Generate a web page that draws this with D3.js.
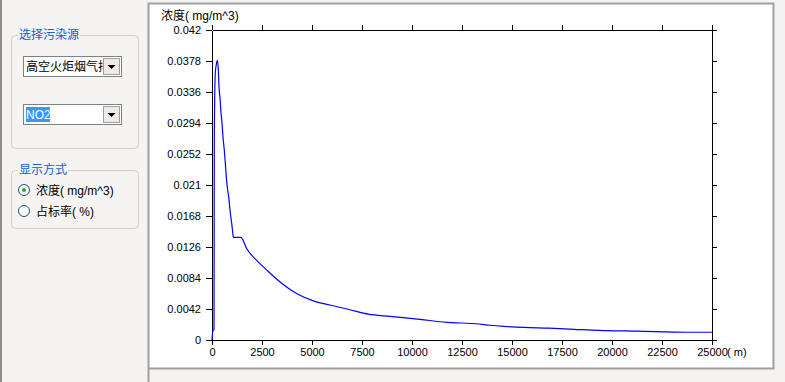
<!DOCTYPE html>
<html><head><meta charset="utf-8">
<script src="https://cdn.jsdelivr.net/npm/d3@7"></script>
<style>
html,body{margin:0;padding:0;background:#f5f4f2;}
svg{display:block;}
text{font-family:"Liberation Sans","Noto Sans CJK SC",sans-serif;}
</style></head>
<body>
<svg id="c" width="785" height="382"></svg>
<script>
// ---- data ----
const distances = [0, 50, 100, 115, 165, 215, 265, 315, 350, 400, 450, 500, 550, 615, 665, 715, 765, 835, 885, 935, 985, 1035, 1070, 1450, 1730, 2230, 2730, 3480, 4230, 5070, 5900, 6900, 7820, 8900, 10400, 11750, 12500, 13200, 13900, 14600, 15600, 16850, 18100, 19350, 21250, 23750, 25000];
const concentration = [0, 0.0013, 0.0014, 0.0271, 0.0362, 0.0373, 0.0379, 0.0367, 0.0343, 0.0328, 0.0308, 0.0294, 0.0275, 0.0257, 0.0240, 0.0221, 0.0207, 0.0194, 0.0180, 0.0168, 0.0158, 0.0146, 0.0139, 0.0139, 0.0124, 0.0108, 0.0095, 0.0077, 0.0063, 0.0053, 0.00474, 0.0041, 0.0035, 0.0032, 0.0028, 0.0024, 0.0023, 0.0022, 0.0020, 0.00185, 0.0017, 0.0016, 0.00145, 0.0013, 0.0012, 0.00105, 0.00105];
const xTickValues = [0, 2500, 5000, 7500, 10000, 12500, 15000, 17500, 20000, 22500, 25000];
const yTickValues = [0, 0.0042, 0.0084, 0.0126, 0.0168, 0.021, 0.0252, 0.0294, 0.0336, 0.0378, 0.042];
const yTickLabels = ["0", "0.0042", "0.0084", "0.0126", "0.0168", "0.021", "0.0252", "0.0294", "0.0336", "0.0378", "0.042"];
const yTitle = "浓度( mg/m^3)";
const xUnit = "( m)";
const groupTitle1 = "选择污染源";
const sourceName = "高空火炬烟气排放";
const pollutant = "NO2";
const groupTitle2 = "显示方式";
const radioLabels = ["浓度( mg/m^3)", "占标率( %)"];

const svg = d3.select("#c");

// ---- window chrome ----
svg.append("rect").attr("x",0).attr("y",0).attr("width",785).attr("height",382).attr("fill","#f5f4f2");
svg.append("rect").attr("x",0).attr("y",0).attr("width",2).attr("height",382).attr("fill","#8c8c8c");
svg.append("rect").attr("x",148).attr("y",3).attr("width",625).attr("height",365).attr("fill","#fff");
svg.append("path").attr("d","M148.5,382 V3.5 H773.5 V368.5 H148").attr("fill","none").attr("stroke","#a0a0a0").attr("stroke-width",2);

// ---- left panel controls ----
const blue = "#1060d0";
function groupBox(x,y,w,h,title){
  svg.append("rect").attr("x",x+0.5).attr("y",y+0.5).attr("width",w).attr("height",h).attr("rx",4)
    .attr("fill","none").attr("stroke","#cfcfc4");
  const t = svg.append("text").attr("x",x+8).attr("y",y+4).attr("font-size",12).attr("fill",blue).text(title);
  const bb = t.node().getBBox();
  svg.insert("rect", "text:last-of-type").attr("x",bb.x-1).attr("y",bb.y).attr("width",bb.width+2).attr("height",bb.height).attr("fill","#f5f4f2");
  t.raise();
}
groupBox(11,35,127,113,groupTitle1);
groupBox(11,170,127,58,groupTitle2);

function combo(x,y,w,h,label,selected){
  svg.append("rect").attr("x",x+0.5).attr("y",y+0.5).attr("width",w).attr("height",h).attr("fill","#fff").attr("stroke","#808080");
  const clipId = "clip"+y;
  svg.append("clipPath").attr("id",clipId).append("rect").attr("x",x+1).attr("y",y+1).attr("width",w-19).attr("height",h-1);
  if(selected){
    svg.append("rect").attr("x",x+3).attr("y",y+3).attr("width",23).attr("height",h-5).attr("fill","#3399ff");
    svg.append("rect").attr("x",x+26).attr("y",y+3).attr("width",1).attr("height",h-5).attr("fill","#ff7a00");
  }
  svg.append("text").attr("clip-path","url(#"+clipId+")").attr("x",x+3).attr("y",y+h/2+4.5)
    .attr("font-size",12).attr("fill",selected?"#fff":"#000").text(label);
  svg.append("rect").attr("x",x+w-17.5).attr("y",y+2.5).attr("width",16).attr("height",h-4).attr("fill","#ecebe8").attr("stroke","#a0a0a0");
  const cx = x+w-9.5, cy = y+h/2+1;
  svg.append("path").attr("d",`M${cx-4},${cy-2} h8 l-4,4 z`).attr("fill","#000");
}
combo(23,56,98,20,sourceName,false);
combo(23,104,98,20,pollutant,true);

radioLabels.forEach((lab,i)=>{
  const cy = 190 + i*21;
  svg.append("circle").attr("cx",24).attr("cy",cy).attr("r",5.5).attr("fill","#fff").attr("stroke","#1c5180");
  if(i===0) svg.append("circle").attr("cx",24).attr("cy",cy).attr("r",2).attr("fill","#2aa52a");
  svg.append("text").attr("x",36).attr("y",cy+5).attr("font-size",12).attr("fill","#000").text(lab);
});

// ---- chart ----
const x = d3.scaleLinear().domain([0,25000]).range([212,712]);
const y = d3.scaleLinear().domain([0,0.042]).range([340,30]);

const axisStyle = g => {
  g.selectAll("path,line").attr("stroke","#000").attr("shape-rendering","crispEdges");
  g.selectAll("text").attr("font-size",11).attr("fill","#000").attr("font-family","Liberation Sans, sans-serif");
};

svg.append("g").attr("transform","translate(0,30)")
  .call(d3.axisTop(x).tickValues(xTickValues).tickSize(5).tickSizeOuter(0).tickFormat(""))
  .call(axisStyle);
svg.append("g").attr("transform","translate(0,340)")
  .call(d3.axisBottom(x).tickValues(xTickValues).tickSize(5).tickSizeOuter(0).tickPadding(3).tickFormat(d3.format("d")))
  .call(axisStyle);
svg.append("g").attr("transform","translate(212,0)")
  .call(d3.axisLeft(y).tickValues(yTickValues).tickSize(6).tickSizeOuter(0).tickPadding(5).tickFormat((d,i)=>yTickLabels[i]))
  .call(axisStyle);
svg.append("g").attr("transform","translate(712,0)")
  .call(d3.axisRight(y).tickValues(yTickValues).tickSize(5).tickSizeOuter(0).tickFormat(""))
  .call(axisStyle);

svg.append("text").attr("x",161).attr("y",20).attr("font-size",12).attr("fill","#000").text(yTitle);
svg.append("text").attr("x",727).attr("y",356).attr("font-size",11).attr("fill","#000").text(xUnit);

const line = d3.line().curve(d3.curveMonotoneX).x((d,i)=>x(distances[i])).y((d,i)=>y(concentration[i]));
svg.append("path").datum(concentration).attr("d",line).attr("fill","none").attr("stroke","#0000ff").attr("stroke-width",1.2);
</script>
</body></html>
